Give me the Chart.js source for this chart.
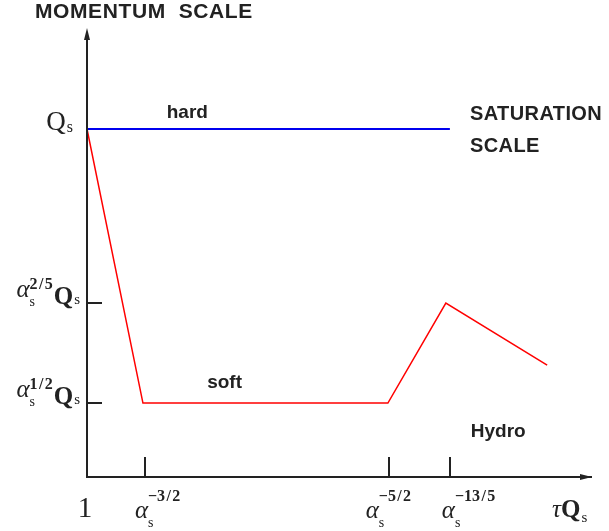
<!DOCTYPE html>
<html>
<head>
<meta charset="utf-8">
<script src="https://cdn.jsdelivr.net/npm/chart.js@4/dist/chart.umd.min.js"></script>
<style>
  html, body { margin: 0; padding: 0; background: #fff; }
  #wrap { width: 609px; height: 531px; }
</style>
</head>
<body>
<div id="wrap"><canvas id="chart"></canvas></div>
<script>
(() => {
  'use strict';

  // tick positions on both axes (arbitrary units) and their labels
  const xTickValues = [0, 1.15, 6.0, 7.2];
  const xTickExponents = [null, '\u22123\u200a/\u200a2', '\u22125\u200a/\u200a2', '\u221213\u200a/\u200a5'];
  const xLabelStart = [0, 0.95, 5.53, 7.04];
  const yTickValues = [8, 4, 1.7];
  const yTickExponents = [null, '2\u200a/\u200a5', '1\u200a/\u200a2'];

  // hard scale (blue) and soft scale (red)
  const hardX = [0, 7.2];
  const hardY = [8, 8];
  const softX = [0, 1.11, 5.97, 7.12, 9.13];
  const softY = [8, 1.7, 1.7, 4.0, 2.57];

  // region labels
  const regionNames = ['hard', 'soft', 'Hydro'];
  const regionX = [1.99, 2.73, 8.16];
  const regionY = [8.25, 2.05, 0.92];

  const INK = '#222';
  const SERIF = '"Liberation Serif", "DejaVu Serif", serif';
  const SANS = '"Liberation Sans", Arial, sans-serif';

  const toPoints = (xs, ys) => xs.map((x, i) => ({ x: x, y: ys[i] }));

  /**
   * Draws a run of text pieces, each with its own font and baseline shift.
   * Pieces flagged "stack" do not move the pen forward.
   */
  const drawPieces = (ctx, pieces, x, baseline, align) => {
    let width = 0;
    pieces.forEach((p) => {
      ctx.font = p.font;
      p.w = ctx.measureText(p.text).width;
      width += p.stack ? 0 : p.w + (p.gap || 0);
    });
    let cx = align === 'right' ? x - width : align === 'center' ? x - width / 2 : x;
    pieces.forEach((p) => {
      ctx.font = p.font;
      ctx.fillText(p.text, cx, baseline + (p.dy || 0));
      if (!p.stack) cx += p.w + (p.gap || 0);
    });
  };

  /**
   * alpha_s^{exp}: base shift of alpha, and where the sup sits relative to it
   */
  const alphaPieces = (exp, base, supShift) => [
    { text: '\u03b1', font: 'italic 25px ' + SERIF, dy: base },
    { text: 's', font: '14px ' + SERIF, dy: base + 9, stack: true },
    { text: exp, font: 'bold 16px ' + SERIF, dy: base + supShift, gap: 1 }
  ];

  const decorations = {
    id: 'decorations',
    afterDraw(chart) {
      const ctx = chart.ctx;
      const xs = chart.scales.x;
      const ys = chart.scales.y;
      const x0 = xs.getPixelForValue(0);
      const y0 = ys.getPixelForValue(0);
      const top = chart.chartArea.top;
      const right = chart.chartArea.right;

      ctx.save();
      ctx.fillStyle = INK;
      ctx.strokeStyle = INK;
      ctx.lineWidth = 2;

      // axis extension and arrow heads
      ctx.beginPath();
      ctx.moveTo(x0, y0);
      ctx.lineTo(x0, top - 8);
      ctx.stroke();
      ctx.beginPath();
      ctx.moveTo(x0, top - 14);
      ctx.lineTo(x0 - 3, top - 2);
      ctx.lineTo(x0 + 3, top - 2);
      ctx.closePath();
      ctx.fill();
      ctx.beginPath();
      ctx.moveTo(right + 1, y0);
      ctx.lineTo(right - 11, y0 - 3);
      ctx.lineTo(right - 11, y0 + 3);
      ctx.closePath();
      ctx.fill();

      // inner tick marks
      ctx.beginPath();
      xTickValues.forEach((v, i) => {
        if (!xTickExponents[i]) return;
        const px = Math.round(xs.getPixelForValue(v));
        ctx.moveTo(px, y0);
        ctx.lineTo(px, y0 - 20);
      });
      yTickValues.forEach((v, i) => {
        if (!yTickExponents[i]) return;
        const py = Math.round(ys.getPixelForValue(v));
        ctx.moveTo(x0, py);
        ctx.lineTo(x0 + 15, py);
      });
      ctx.stroke();

      // x tick labels
      ctx.textAlign = 'left';
      ctx.textBaseline = 'alphabetic';
      xTickValues.forEach((v, i) => {
        if (!xTickExponents[i]) {
          ctx.font = '29px ' + SERIF;
          ctx.textAlign = 'center';
          ctx.fillText('1', xs.getPixelForValue(v) - 2, y0 + 40);
          ctx.textAlign = 'left';
          return;
        }
        drawPieces(ctx, alphaPieces(xTickExponents[i], 0, -17), xs.getPixelForValue(xLabelStart[i]), y0 + 41, 'left');
      });
      drawPieces(ctx, [
        { text: '\u03c4', font: 'italic 25px ' + SERIF },
        { text: 'Q', font: 'bold 25px ' + SERIF, gap: 1 },
        { text: 's', font: '15px ' + SERIF, dy: 5 }
      ], right - 39, y0 + 40, 'left');

      // y tick labels
      yTickValues.forEach((v, i) => {
        const py = ys.getPixelForValue(v);
        if (!yTickExponents[i]) {
          drawPieces(ctx, [
            { text: 'Q', font: '27px ' + SERIF, gap: 1 },
            { text: 's', font: '16px ' + SERIF, dy: 2 }
          ], x0 - 14, py + 1, 'right');
          return;
        }
        const pieces = alphaPieces(yTickExponents[i], -7, -8).concat([
          { text: 'Q', font: 'bold 25px ' + SERIF, gap: 1 },
          { text: 's', font: '15px ' + SERIF }
        ]);
        drawPieces(ctx, pieces, x0 - 7, py + 1, 'right');
      });

      // titles and region names
      ctx.font = 'bold 21px ' + SANS;
      ctx.letterSpacing = '0.6px';
      ctx.fillText('MOMENTUM  SCALE', 35, 18);
      ctx.font = 'bold 20px ' + SANS;
      ctx.letterSpacing = '0.4px';
      ctx.fillText('SATURATION', 470, 120);
      ctx.fillText('SCALE', 470, 152);
      ctx.letterSpacing = '0px';
      ctx.font = 'bold 19px ' + SANS;
      ctx.textAlign = 'center';
      regionNames.forEach((name, i) => {
        ctx.fillText(name, xs.getPixelForValue(regionX[i]), ys.getPixelForValue(regionY[i]));
      });
      ctx.restore();
    }
  };

  const axisOptions = (min, max) => ({
    type: 'linear',
    min: min,
    max: max,
    ticks: { display: false },
    grid: { display: true, drawOnChartArea: false, drawTicks: false },
    border: { display: true, color: INK, width: 2 }
  });

  new Chart(document.getElementById('chart'), {
    type: 'scatter',
    data: {
      datasets: [
        {
          data: toPoints(hardX, hardY),
          showLine: true,
          borderColor: '#0000ee',
          borderWidth: 2,
          pointRadius: 0
        },
        {
          data: toPoints(softX, softY),
          showLine: true,
          borderColor: '#ff0000',
          borderWidth: 1.5,
          pointRadius: 0
        }
      ]
    },
    options: {
      responsive: true,
      maintainAspectRatio: false,
      animation: false,
      layout: { padding: { left: 87, top: 42, right: 18, bottom: 54 } },
      plugins: { legend: { display: false }, tooltip: { enabled: false } },
      scales: {
        x: axisOptions(0, 10),
        y: axisOptions(0, 10)
      }
    },
    plugins: [decorations]
  });
})();
</script>
</body>
</html>
